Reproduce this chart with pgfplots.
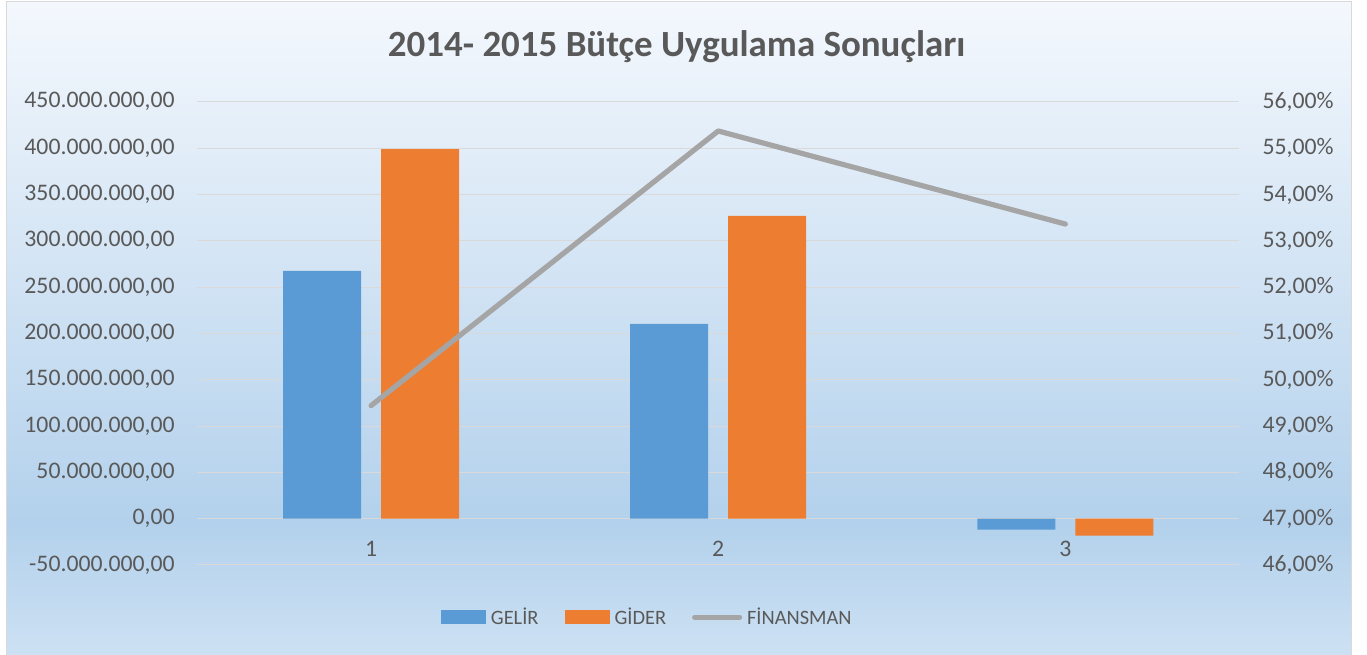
\documentclass[border=0pt]{standalone}
\usepackage{fontspec}
\setmainfont{Carlito}
\usepackage{pgfplots}
\pgfplotsset{compat=1.18}

\definecolor{gelir}{HTML}{5B9BD5}
\definecolor{gider}{HTML}{ED7D31}
\definecolor{finans}{HTML}{A5A5A5}
\definecolor{txt}{HTML}{595959}
\definecolor{gridc}{HTML}{D9D9D9}
\definecolor{bgtop}{HTML}{F4F8FD}
\definecolor{bgmid}{HTML}{B3D1EC}
\definecolor{bgbot}{HTML}{CDE1F3}
\pgfdeclareverticalshading{chartbg}{100bp}{color(0bp)=(bgbot); color(25bp)=(bgbot); color(35.3bp)=(bgmid); color(75bp)=(bgtop); color(100bp)=(bgtop)}

% both axes share the same frame (1px = 0.75pt)
\pgfplotsset{
  chartbase/.style={
    scale only axis, width=781.1pt, height=347.4pt,
    at={(148.1pt,67.5pt)}, anchor=south west,
    xmin=0.5, xmax=3.5,
    major tick length=0pt,
    axis line style={draw=none},
    tick label style={font=\fontsize{17.8}{21}\selectfont, text=txt},
    /pgf/number format/assume math mode=true,
  }
}

\begin{document}
\begin{tikzpicture}
\useasboundingbox (0,0) rectangle (1025.25pt,491.25pt);
\fill[white] (0,0) rectangle (1025.25pt,491.25pt);
\shade[shading=chartbg, draw=gridc, line width=0.75pt] (4.5pt,-2pt) rectangle (1013.25pt,489.75pt);
\node[font=\bfseries\fontsize{27.7}{32}\selectfont, text=txt, anchor=base]
  at (507.5pt,448.7pt) {2014- 2015 Bütçe Uygulama Sonuçları};

\begin{axis}[chartbase,
  ymin=-50000000, ymax=450000000, ytick distance=50000000,
  scaled y ticks=false,
  ymajorgrids, grid style={gridc, line width=0.75pt},
  xtick={1,2,3},
  xticklabel style={anchor=center, yshift=12.2pt},
  yticklabel style={anchor=east, inner sep=0pt, xshift=-16.9pt,
    /pgf/number format/.cd, fixed, fixed zerofill, precision=2,
    set decimal separator={,}, set thousands separator={.}},
  legend columns=3,
  legend style={at={(0.4309,-0.1123)}, anchor=center, draw=none, fill=none,
    font=\fontsize{15.3}{18}\selectfont, text=txt, nodes={inner sep=0pt},
    /tikz/every odd column/.append style={column sep=3.75pt},
    /tikz/every even column/.append style={column sep=19.5pt}},
]
\addplot[ybar, bar width=58.5pt, bar shift=-36.75pt, fill=gelir, draw=none,
  legend image code/.code={\fill[gelir] (0pt,-5.25pt) rectangle (33.75pt,5.25pt);}]
  coordinates {(1,267500000) (2,210400000) (3,-11900000)};
\addlegendentry{GELİR}
\addplot[ybar, bar width=58.5pt, bar shift=36.75pt, fill=gider, draw=none,
  legend image code/.code={\fill[gider] (0pt,-5.25pt) rectangle (33.75pt,5.25pt);}]
  coordinates {(1,399000000) (2,326900000) (3,-18200000)};
\addlegendentry{GİDER}
\addlegendimage{legend image code/.code={\draw[finans, line width=3.75pt, line cap=round] (1.875pt,0pt) -- (35.625pt,0pt);}}
\addlegendentry{FİNANSMAN}
\end{axis}

\begin{axis}[chartbase,
  ymin=46, ymax=56, ytick distance=1,
  xtick=\empty, yticklabel pos=right,
  yticklabel style={anchor=west, inner sep=0pt, xshift=17.6pt,
    /pgf/number format/.cd, fixed, fixed zerofill, precision=2,
    set decimal separator={,}},
  yticklabel={\pgfmathprintnumber{\tick}\%},
]
\addplot[finans, line width=3.9pt, line cap=round, line join=round]
  coordinates {(1,49.44) (2,55.37) (3,53.36)};
\end{axis}
\end{tikzpicture}
\end{document}
